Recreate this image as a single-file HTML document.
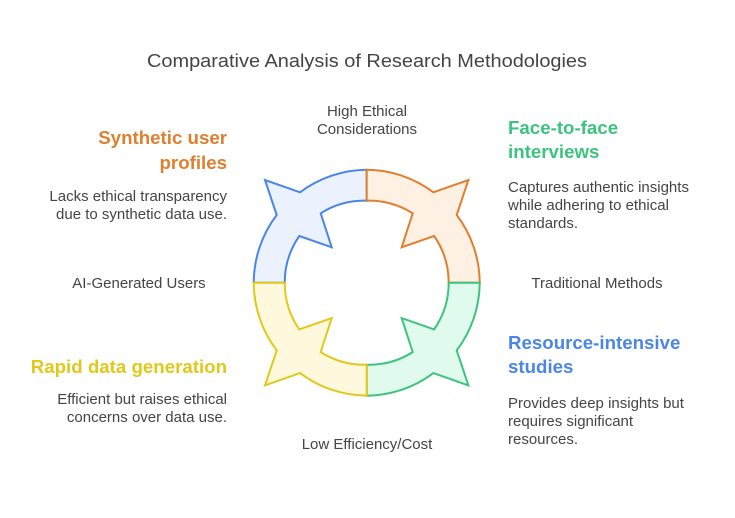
<!DOCTYPE html>
<html><head><meta charset="utf-8"><style>
html,body{margin:0;padding:0;background:#fff;}
svg{display:block;font-family:"Liberation Sans",sans-serif;}
.b{font-size:15px;fill:#444;}
.h{font-size:18.7px;font-weight:bold;}
</style></head><body>
<svg width="735" height="518" viewBox="0 0 735 518">
<text x="367" y="67" text-anchor="middle" font-size="18" fill="#444" textLength="440" lengthAdjust="spacingAndGlyphs">Comparative Analysis of Research Methodologies</text>
<defs>
<path id="q" d="M-113,0 A113,113 0 0 1 -90,-67.7 L-101.7,-102.7 L-66.7,-90.4 A113,113 0 0 1 0,-113 L0,-82 A82,82 0 0 0 -46,-69.4 L-35,-35.4 L-67.4,-46.7 A82,82 0 0 0 -82,0 Z" stroke-width="2" stroke-linejoin="miter"/>
</defs>
<g transform="translate(366.7,282.7)">
<use href="#q" fill="#ebf2fe" stroke="#4a86e8"/>
<use href="#q" transform="scale(-1,1)" fill="#fef0e3" stroke="#e07f2e"/>
<use href="#q" transform="scale(-1,-1)" fill="#e0fbee" stroke="#3cc47e"/>
<use href="#q" transform="scale(1,-1)" fill="#fef9dc" stroke="#e2c81a"/>
</g>
<text class="b" x="367" y="116" text-anchor="middle">High Ethical</text>
<text class="b" x="367" y="134" text-anchor="middle">Considerations</text>
<text class="b" x="139" y="288" text-anchor="middle">AI-Generated Users</text>
<text class="b" x="597" y="288" text-anchor="middle">Traditional Methods</text>
<text class="b" x="367" y="449" text-anchor="middle">Low Efficiency/Cost</text>

<text class="h" x="227" y="144" text-anchor="end" fill="#e07f2e">Synthetic user</text>
<text class="h" x="227" y="169" text-anchor="end" fill="#e07f2e">profiles</text>
<text class="b" x="227" y="201" text-anchor="end">Lacks ethical transparency</text>
<text class="b" x="227" y="219" text-anchor="end">due to synthetic data use.</text>

<text class="h" x="508" y="134" fill="#3cc47e">Face-to-face</text>
<text class="h" x="508" y="158" fill="#3cc47e">interviews</text>
<text class="b" x="508" y="192">Captures authentic insights</text>
<text class="b" x="508" y="210">while adhering to ethical</text>
<text class="b" x="508" y="228">standards.</text>

<text class="h" x="508" y="349" fill="#4a86e8">Resource-intensive</text>
<text class="h" x="508" y="373" fill="#4a86e8">studies</text>
<text class="b" x="508" y="408">Provides deep insights but</text>
<text class="b" x="508" y="426">requires significant</text>
<text class="b" x="508" y="444">resources.</text>

<text class="h" x="227" y="373" text-anchor="end" fill="#e2c81a">Rapid data generation</text>
<text class="b" x="227" y="404" text-anchor="end">Efficient but raises ethical</text>
<text class="b" x="227" y="422" text-anchor="end">concerns over data use.</text>
</svg>
</body></html>
